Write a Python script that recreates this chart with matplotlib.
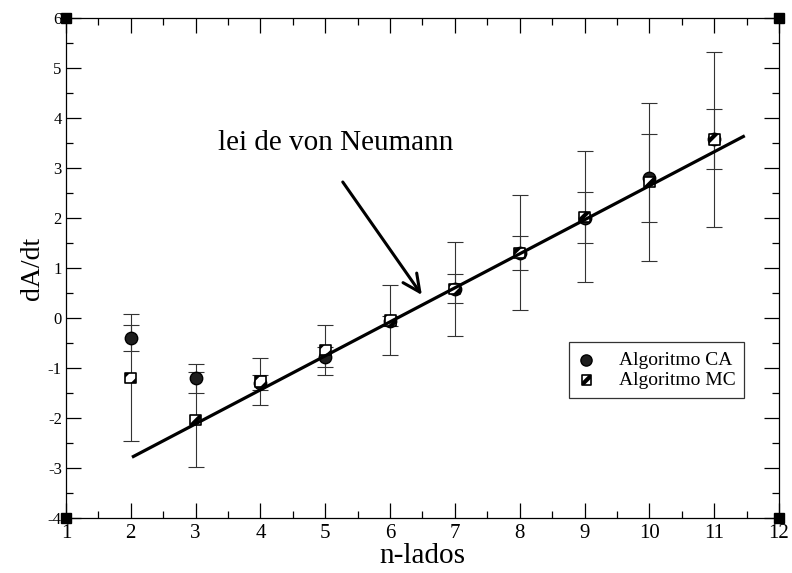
import matplotlib
matplotlib.use('Agg')
import matplotlib.pyplot as plt
from matplotlib.ticker import MultipleLocator

plt.rcParams['font.family'] = 'Liberation Serif'
plt.rcParams['axes.unicode_minus'] = False
plt.rcParams['hatch.linewidth'] = 3.0

# data
n_lados = [2, 3, 4, 5, 6, 7, 8, 9, 10, 11]
ca_vals = [-0.41, -1.21, -1.30, -0.78, -0.07, 0.58, 1.29, 2.00, 2.80, 3.57]
ca_err = [0.26, 0.29, 0.15, 0.20, 0.10, 0.29, 0.34, 0.51, 0.88, 0.60]
mc_vals = [-1.20, -2.04, -1.27, -0.64, -0.05, 0.58, 1.30, 2.02, 2.72, 3.57]
mc_err = [1.27, 0.95, 0.47, 0.50, 0.70, 0.94, 1.15, 1.31, 1.58, 1.75]

# von Neumann law line
law_x = [2.04, 11.45]
law_y = [-2.77, 3.63]

fig = plt.figure(figsize=(7.92, 5.73), dpi=100)
ax = fig.add_axes([0.0833, 0.096, 0.9003, 0.8726])

ax.errorbar(n_lados, mc_vals, yerr=mc_err, fmt='none', ecolor='#333333',
            elinewidth=0.8, capsize=5.5, capthick=0.8, zorder=2)
ax.errorbar(n_lados, ca_vals, yerr=ca_err, fmt='none', ecolor='#333333',
            elinewidth=0.8, capsize=5.5, capthick=0.8, zorder=2)

ax.scatter(n_lados, ca_vals, marker='o', s=80, facecolor='#1e1e1e',
           edgecolor='black', linewidths=1, zorder=3, label='Algoritmo CA')
ax.scatter(n_lados, mc_vals, marker='s', s=62, facecolor='white',
           edgecolor='black', hatch='//', linewidths=1.2, zorder=3, label='Algoritmo MC')

ax.plot(law_x, law_y, color='black', lw=2.3, zorder=4)

ax.annotate('', xy=(6.49, 0.46), xytext=(5.27, 2.72),
            arrowprops=dict(arrowstyle='->,head_length=1.25,head_width=0.6',
                            lw=2.2, color='black', shrinkA=0, shrinkB=0))
ax.text(3.35, 3.35, 'lei de von Neumann', fontsize=21, ha='left', va='baseline')

ax.set_xlim(1, 12)
ax.set_ylim(-4, 6)
ax.xaxis.set_major_locator(MultipleLocator(1))
ax.xaxis.set_minor_locator(MultipleLocator(0.5))
ax.yaxis.set_major_locator(MultipleLocator(1))
ax.yaxis.set_minor_locator(MultipleLocator(0.5))
ax.tick_params(which='both', direction='in', top=True, right=True, width=0.9)
ax.tick_params(which='major', length=10.5)
ax.tick_params(which='minor', length=5.2)
ax.tick_params(axis='x', labelsize=15, pad=4)
ax.tick_params(axis='y', labelsize=12, pad=3)
for sp in ax.spines.values():
    sp.set_linewidth(0.9)

ax.set_xlabel('n-lados', fontsize=21, labelpad=0)
ax.set_ylabel('dA/dt', fontsize=20, labelpad=2)

# corner squares
ax.plot([1, 12, 1, 12], [-4, -4, 6, 6], 's', color='black', ms=7.5,
        clip_on=False, zorder=5)

leg = ax.legend(loc='lower right', bbox_to_anchor=(0.951, 0.24), fontsize=14,
                frameon=True, fancybox=False, edgecolor='black',
                handletextpad=1.2, borderpad=0.45, labelspacing=0.15,
                handlelength=0.9, borderaxespad=0, markerscale=0.9)
leg.get_frame().set_linewidth(0.9)

fig.savefig('out.png', dpi=100)
